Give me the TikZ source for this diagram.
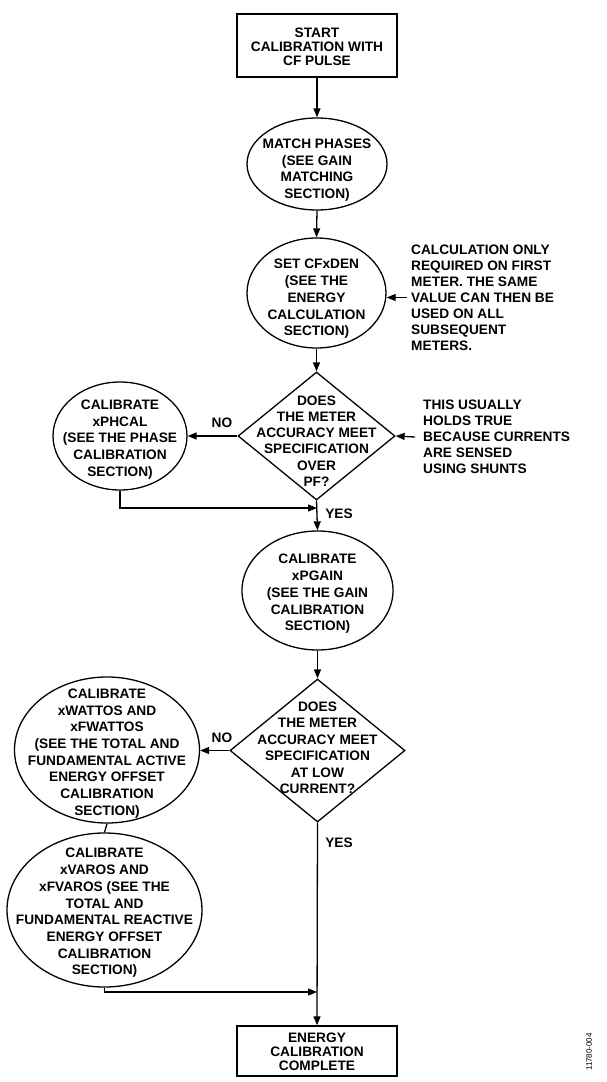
\documentclass[tikz,border=0pt]{standalone}
\usepackage{fontspec}
\setmainfont{Liberation Sans}
\usetikzlibrary{shapes.geometric,arrows.meta}
\begin{document}
\begin{tikzpicture}[x=1pt,y=-1pt,
  font=\fontsize{13.7}{16.7}\selectfont\bfseries,
  line/.style={line width=1.3pt},
  arr/.style={line, -{Triangle[length=9pt,width=7pt]}},
  boxnode/.style={draw, line width=1.4pt, minimum width=160pt, inner sep=0pt},
  boxtxt/.style={align=center, inner sep=0pt, font=\fontsize{13.7}{14}\selectfont\bfseries},
  oval/.style={draw, ellipse, line width=1.3pt, inner sep=0pt},
  dia/.style={draw, diamond, line width=1.3pt, inner sep=0pt},
  txt/.style={align=center, inner sep=0pt},
  notetxt/.style={align=left, inner sep=0pt, anchor=west, font=\fontsize{13.7}{16}\selectfont\bfseries},
  lbl/.style={inner sep=0pt},
]
\useasboundingbox (0,0) rectangle (606,1082);

% start box
\node[boxnode, minimum height=63pt,
  label={[boxtxt,yshift=-1.5pt]center:{START\\CALIBRATION WITH\\CF PULSE}}] (start) at (317,45.5) {};

% ellipse 1
\node[oval, minimum width=140pt, minimum height=92pt,
  label={[txt,yshift=-6pt]center:{MATCH PHASES\\(SEE GAIN\\MATCHING\\SECTION)}}] (e1) at (317,164) {};

% ellipse 2
\node[oval, minimum width=139pt, minimum height=110pt,
  label={[txt,yshift=-6pt]center:{SET CFxDEN\\(SEE THE\\ENERGY\\CALCULATION\\SECTION)}}] (e2) at (316.5,293) {};

\node[notetxt] (n1) at (411,297.5) {CALCULATION ONLY\\REQUIRED ON FIRST\\METER. THE SAME\\VALUE CAN THEN BE\\USED ON ALL\\SUBSEQUENT\\METERS.};

% diamond 1
\node[dia, minimum width=157pt, minimum height=128pt,
  label={[txt,yshift=-5pt,font=\fontsize{13.7}{16.3}\selectfont\bfseries]center:{DOES\\THE METER\\ACCURACY MEET\\SPECIFICATION\\OVER\\PF?}}] (d1) at (316.5,436) {};

\node[notetxt] (n2) at (423,437) {THIS USUALLY\\HOLDS TRUE\\BECAUSE CURRENTS\\ARE SENSED\\USING SHUNTS};

% ellipse A
\node[oval, minimum width=134pt, minimum height=108pt,
  label={[txt,yshift=-3.5pt]center:{CALIBRATE\\xPHCAL\\(SEE THE PHASE\\CALIBRATION\\SECTION)}}] (eA) at (120,436) {};

\coordinate (j1) at (317,508);

% ellipse 3
\node[oval, minimum width=151pt, minimum height=119pt,
  label={[txt,yshift=-3.5pt]center:{CALIBRATE\\xPGAIN\\(SEE THE GAIN\\CALIBRATION\\SECTION)}}] (e3) at (317.5,590.5) {};

% diamond 2
\node[dia, minimum width=175pt, minimum height=143pt,
  label={[txt,yshift=2.5pt,font=\fontsize{13.7}{16.5}\selectfont\bfseries]center:{DOES\\THE METER\\ACCURACY MEET\\SPECIFICATION\\AT LOW\\CURRENT?}}] (d2) at (317.5,750.5) {};

% ellipse B
\node[oval, minimum width=185pt, minimum height=146pt,
  label={[txt,yshift=-3.5pt]center:{CALIBRATE\\xWATTOS AND\\xFWATTOS\\(SEE THE TOTAL AND\\FUNDAMENTAL ACTIVE\\ENERGY OFFSET\\CALIBRATION\\SECTION)}}] (eB) at (107,750) {};

% ellipse C
\node[oval, minimum width=195pt, minimum height=154pt,
  label={[txt,yshift=-3pt]center:{CALIBRATE\\xVAROS AND\\xFVAROS (SEE THE\\TOTAL AND\\FUNDAMENTAL REACTIVE\\ENERGY OFFSET\\CALIBRATION\\SECTION)}}] (eC) at (104.5,910) {};

\coordinate (j2) at (317,992);

% end box
\node[boxnode, minimum height=50pt,
  label={[boxtxt,yshift=-0.5pt]center:{ENERGY\\CALIBRATION\\COMPLETE}}] (done) at (317,1051) {};

% labels
\node[lbl] (no1) at (222,423) {NO};
\node[lbl] (yes1) at (339,514) {YES};
\node[lbl] (no2) at (222,738) {NO};
\node[lbl] (yes2) at (339,843) {YES};
\node[lbl, rotate=90, font=\fontsize{8}{9}\selectfont] (fig) at (589,1052) {11780-004};

% connectors
\draw[arr] (start.south) -- (e1.north);
\draw[arr] (e1.south) -- (e2.north);
\draw[arr] ([xshift=-4pt]n1.west) -- (n1.west -| e2.east);
\draw[arr] (e2.south) -- (d1.north);
\draw[arr] (d1.west) -- (d1.west -| eA.east);
\draw[arr] ([xshift=-8pt]n2.west) -- (d1.east);
\draw[arr] (eA.south) |- (j1);
\draw[arr] (d1.south) -- (e3.north);
\draw[arr] (e3.south) -- (d2.north);
\draw[arr] (d2.west) -- (d2.west -| eB.east);
\draw[line] (eB.south) -- (eC.north);
\draw[arr] (eC.south) |- (j2);
\draw[arr] (d2.south) -- (done.north);
\end{tikzpicture}
\end{document}
